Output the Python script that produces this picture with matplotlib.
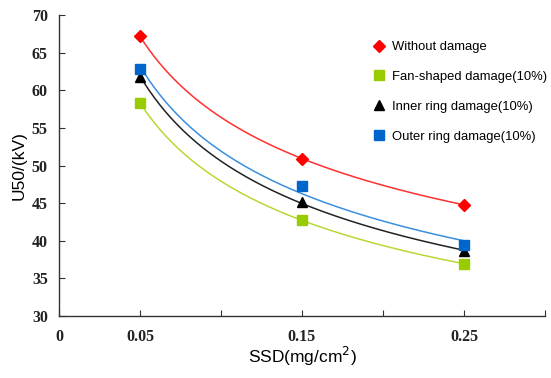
import numpy as np
import matplotlib
matplotlib.use("Agg")
import matplotlib.pyplot as plt
from matplotlib.lines import Line2D

ssd = [0.05, 0.15, 0.25]
without_damage = [67.2, 50.9, 44.8]
fan_shaped = [58.3, 42.8, 36.9]
inner_ring = [61.8, 45.2, 38.6]
outer_ring = [62.8, 47.3, 39.4]

series = [
    ("Without damage", without_damage, "#FF0000", "#FF3030", "D", 6.5),
    ("Fan-shaped damage(10%)", fan_shaped, "#99CC00", "#B8D834", "s", 7.5),
    ("Inner ring damage(10%)", inner_ring, "#000000", "#222222", "^", 7),
    ("Outer ring damage(10%)", outer_ring, "#0066CC", "#3A8FDF", "s", 7.5),
]

xticks = [0, 0.05, 0.1, 0.15, 0.2, 0.25, 0.3]
xticklabels = ["0", "0.05", "", "0.15", "", "0.25", ""]
yticks = [30, 35, 40, 45, 50, 55, 60, 65, 70]

fig = plt.figure(figsize=(5.51, 3.78), dpi=100)
ax = fig.add_axes([0.107, 0.164, 0.882, 0.796])

xs = np.linspace(ssd[0], ssd[-1], 200)
handles = []
for name, vals, mc, lc, mk, ms in series:
    b, loga = np.polyfit(np.log(ssd), np.log(vals), 1)
    ax.plot(xs, np.exp(loga) * xs ** b, color=lc, lw=1.1, zorder=2)
    ax.plot(ssd, vals, linestyle="none", marker=mk, color=mc, ms=ms, zorder=3)
    handles.append(Line2D([], [], linestyle="none", marker=mk, color=mc, ms=ms - 0.5, label=name))

ax.set_xlim(0, 0.3)
ax.set_ylim(30, 70)
ax.set_xticks(xticks)
ax.set_xticklabels(xticklabels)
ax.set_yticks(yticks)
for s in ["top", "right"]:
    ax.spines[s].set_visible(False)
for s in ["left", "bottom"]:
    ax.spines[s].set_color("#333333")
    ax.spines[s].set_linewidth(1.0)
ax.tick_params(axis="both", direction="in", length=4, color="#333333")
ax.tick_params(axis="x", pad=9)
ax.tick_params(axis="y", pad=8)
for lab in ax.get_xticklabels() + ax.get_yticklabels():
    lab.set_fontfamily("Liberation Serif")
    lab.set_fontweight("bold")
    lab.set_fontsize(11.5)
    lab.set_color("#222222")

ax.set_xlabel("SSD(mg/cm$^2$)", fontsize=12.5, fontfamily="Liberation Sans", labelpad=0)
ax.set_ylabel("U50/(kV)", fontsize=12.5, fontfamily="Liberation Sans", labelpad=4)

leg = ax.legend(handles=handles, loc="upper left", bbox_to_anchor=(0.621, 0.953),
                frameon=False, prop={"family": "Liberation Sans", "size": 9.4},
                labelspacing=1.36, handlelength=1.0, handletextpad=0.5,
                borderpad=0.4)

fig.savefig("out.png", dpi=100)
